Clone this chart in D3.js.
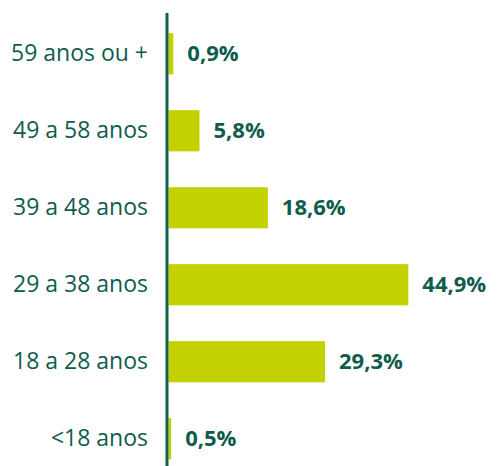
<!DOCTYPE html>
<html><head><meta charset="utf-8">
<script src="https://cdn.jsdelivr.net/npm/d3@7/dist/d3.min.js"></script>
<style>body{margin:0;background:#fff;}svg{display:block;}</style>
</head><body>
<svg id="c" width="498" height="466"></svg>
<script>
const categories = ["59 anos ou +", "49 a 58 anos", "39 a 48 anos", "29 a 38 anos", "18 a 28 anos", "<18 anos"];
const values = [0.9, 5.8, 18.6, 44.9, 29.3, 0.5];
const valueLabels = ["0,9%", "5,8%", "18,6%", "44,9%", "29,3%", "0,5%"];

const W = 498, H = 466;
const x0 = 168.5;
const svg = d3.select("#c");
const x = d3.scaleLinear().domain([0, 44.9]).range([x0, 408.3]);
const y = d3.scaleBand().domain(categories).range([15.5, 477]).paddingInner(0.465).paddingOuter(0.23);

const textColor = "#0f5c4c";
const barColor = "#c4d100";
const font = "'Open Sans', sans-serif";

svg.selectAll("rect.bar").data(categories).join("rect")
  .attr("class","bar")
  .attr("x", x0)
  .attr("y", d => y(d))
  .attr("width", (d,i) => x(values[i]) - x0)
  .attr("height", y.bandwidth())
  .attr("fill", barColor);

svg.append("line").attr("x1",167).attr("x2",167).attr("y1",13).attr("y2",H)
  .attr("stroke","#14604f").attr("stroke-width",3);

svg.selectAll("text.cat").data(categories).join("text")
  .attr("class","cat")
  .attr("x", 148)
  .attr("y", d => y(d) + y.bandwidth()/2)
  .attr("dy","0.33em")
  .attr("text-anchor","end")
  .attr("font-family", font)
  .attr("font-size", 23)
  .attr("fill", textColor)
  .text(d => d);

svg.selectAll("text.val").data(categories).join("text")
  .attr("class","val")
  .attr("x", (d,i) => x(values[i]) + 14)
  .attr("y", d => y(d) + y.bandwidth()/2)
  .attr("dy","0.33em")
  .attr("font-family", font)
  .attr("font-weight", 700)
  .attr("font-size", 22)
  .attr("fill", textColor)
  .text((d,i) => valueLabels[i]);
</script>
</body></html>
